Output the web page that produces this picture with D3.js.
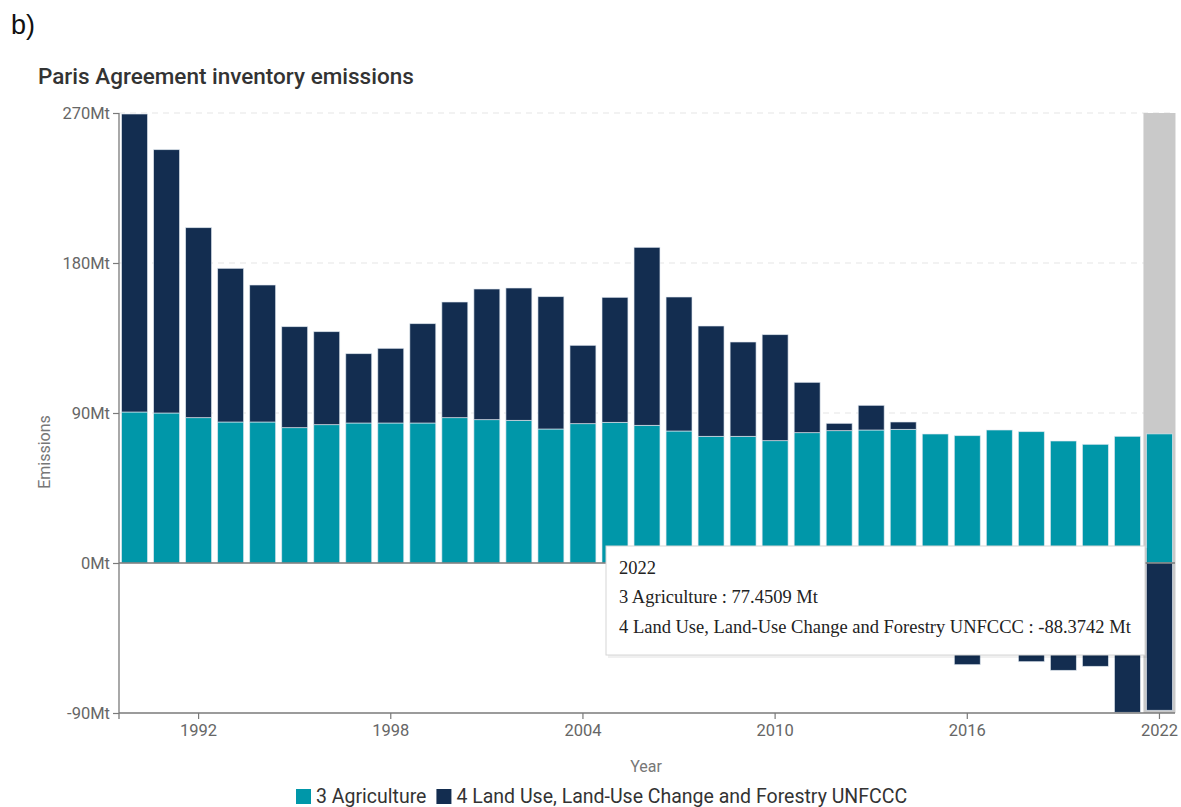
<!DOCTYPE html>
<html>
<head>
<meta charset="utf-8">
<script src="https://cdn.jsdelivr.net/npm/d3@7"></script>
<style>
  body { margin: 0; background: #fff; }
  svg { display: block; }
  .tick text { font-family: "Roboto", "Liberation Sans", sans-serif; }
</style>
</head>
<body>
<div id="graph"></div>
<script>
"use-strict";

// data (Mt)
const years = d3.range(1990, 2023);
const agriculture = [90.6, 90.0, 87.2, 84.6, 84.6, 81.2, 83.0, 84.0, 84.0, 84.0,
                     87.2, 86.0, 85.6, 80.4, 83.6, 84.4, 82.6, 79.2, 76.0, 76.0,
                     73.4, 78.2, 79.4, 79.8, 80.2, 77.4, 76.4, 79.8, 78.8, 73.2,
                     71.2, 76.0, 77.4509];
const lulucf = [178.8, 158.0, 114.0, 92.2, 82.2, 60.6, 55.8, 41.6, 44.8, 59.6,
                69.4, 78.4, 79.4, 79.4, 47.0, 75.0, 106.8, 80.4, 66.2, 56.6,
                63.6, 30.2, 4.4, 14.8, 4.4, -38.0, -61.0, -48.0, -59.2, -64.4,
                -62.0, -89.6, -88.3742];
const seriesNames = ["3 Agriculture", "4 Land Use, Land-Use Change and Forestry UNFCCC"];
const seriesColors = ["#0097a9", "#132d50"];
const yTicks = [-90, 0, 90, 180, 270];
const xTicks = [1992, 1998, 2004, 2010, 2016, 2022];
const hoverYear = 2022;

let width = 1181,
    height = 807;

const m = { left: 119, right: 1175, top: 113, bottom: 713 };

let svg = d3.select("#graph")
    .append("svg")
    .attr("width", width)
    .attr("height", height);

let rows = years.map((y, i) => ({ year: y, agr: agriculture[i], lu: lulucf[i] }));

let x = d3.scaleBand()
    .domain(years)
    .range([m.left, m.right])
    .paddingInner(0.19)
    .paddingOuter(0.08);

let y = d3.scaleLinear()
    .domain([-90, 270])
    .range([m.bottom, m.top]);

// panel label and title
svg.append("text")
    .attr("x", 11).attr("y", 34)
    .style("font-family", "Liberation Sans, Arial, sans-serif")
    .style("font-size", "27px")
    .attr("fill", "#111")
    .text("b)");

svg.append("text")
    .attr("x", 38).attr("y", 84)
    .style("font-family", "Roboto, sans-serif")
    .style("font-size", "22.5px")
    .style("font-weight", 500)
    .attr("fill", "#333")
    .text("Paris Agreement inventory emissions");

// gridlines
svg.append("g")
    .selectAll("line")
    .data(yTicks.filter(d => d > 0))
    .enter()
    .append("line")
    .attr("x1", m.left).attr("x2", m.right)
    .attr("y1", d => y(d)).attr("y2", d => y(d))
    .attr("stroke", "#e6e6e6")
    .attr("stroke-width", 1.2)
    .attr("stroke-dasharray", "6,5");

// hover highlight band
svg.append("rect")
    .attr("x", x(hoverYear) - x.step() * x.paddingInner() / 2)
    .attr("y", m.top)
    .attr("width", x.step())
    .attr("height", m.bottom - m.top)
    .attr("fill", "#c9c9c9");

// stacked bars
let stack = d3.stack()
    .keys(["agr", "lu"])
    .offset(d3.stackOffsetDiverging);

let layers = svg.append("g").selectAll("g")
    .data(stack(rows))
    .enter()
    .append("g")
    .attr("fill", (d, i) => seriesColors[i]);

layers.selectAll("rect")
    .data(d => d)
    .enter()
    .append("rect")
    .attr("x", d => x(d.data.year))
    .attr("width", x.bandwidth())
    .attr("y", d => y(Math.max(d[0], d[1])))
    .attr("height", d => Math.abs(y(d[0]) - y(d[1])))
    .attr("stroke", "rgba(225,232,240,0.8)")
    .attr("stroke-width", 0.8);

// zero line
svg.append("line")
    .attr("x1", m.left).attr("x2", m.right)
    .attr("y1", y(0)).attr("y2", y(0))
    .attr("stroke", "#7a7a7a")
    .attr("stroke-width", 1.3);

// axes
let yAxis = svg.append("g")
    .attr("transform", "translate(" + m.left + ",0)")
    .call(d3.axisLeft(y).tickValues(yTicks).tickSize(6).tickPadding(3)
        .tickFormat(d => d + "Mt"));

let xAxis = svg.append("g")
    .attr("transform", "translate(0," + m.bottom + ")")
    .call(d3.axisBottom(x).tickValues(xTicks).tickSize(6).tickPadding(5));

[yAxis, xAxis].forEach(a => {
    a.select(".domain").attr("stroke", "#7a7a7a").attr("stroke-width", 1.3);
    a.selectAll(".tick line").attr("stroke", "#7a7a7a").attr("stroke-width", 1.2);
    a.selectAll(".tick text").attr("fill", "#666").style("font-size", "16.5px");
});
xAxis.select(".domain").attr("d", "M" + m.left + ",0H" + m.right);
yAxis.select(".domain").attr("d", "M0," + m.top + "V" + (m.bottom + 6));

// axis titles
svg.append("text")
    .attr("x", 646).attr("y", 772)
    .attr("text-anchor", "middle")
    .style("font-family", "Roboto, sans-serif")
    .style("font-size", "16px")
    .attr("fill", "#777")
    .text("Year");

svg.append("text")
    .attr("transform", "translate(50," + 452 + ") rotate(-90)")
    .attr("text-anchor", "middle")
    .style("font-family", "Roboto, sans-serif")
    .style("font-size", "16px")
    .attr("fill", "#777")
    .text("Emissions");

// legend
let legend = svg.append("g").attr("transform", "translate(296,789)");
let lx = 0;
seriesNames.forEach((name, i) => {
    let g = legend.append("g").attr("transform", "translate(" + lx + ",0)");
    g.append("rect")
        .attr("width", 15).attr("height", 15)
        .attr("fill", seriesColors[i]);
    let t = g.append("text")
        .attr("x", 20).attr("y", 14)
        .style("font-family", "Roboto, sans-serif")
        .style("font-size", "19.5px")
        .attr("fill", "#333")
        .text(name);
    lx += 20 + t.node().getComputedTextLength() + 10;
});

// tooltip
let hi = years.indexOf(hoverYear);
let tip = svg.append("g").attr("transform", "translate(606,546)");
tip.append("rect")
    .attr("x", 2).attr("y", 2)
    .attr("width", 540).attr("height", 110)
    .attr("fill", "rgba(0,0,0,0.06)");
tip.append("rect")
    .attr("width", 539).attr("height", 109)
    .attr("fill", "#fff")
    .attr("stroke", "#d6d6d6");
let tipLines = [String(hoverYear),
    seriesNames[0] + " : " + agriculture[hi] + " Mt",
    seriesNames[1] + " : " + lulucf[hi] + " Mt"];
tip.selectAll("text")
    .data(tipLines)
    .enter()
    .append("text")
    .attr("x", 13)
    .attr("y", (d, i) => [28, 57, 87][i])
    .style("font-family", "Liberation Serif, Times New Roman, serif")
    .style("font-size", "18.5px")
    .attr("fill", "#222")
    .text(d => d);
</script>
</body>
</html>
